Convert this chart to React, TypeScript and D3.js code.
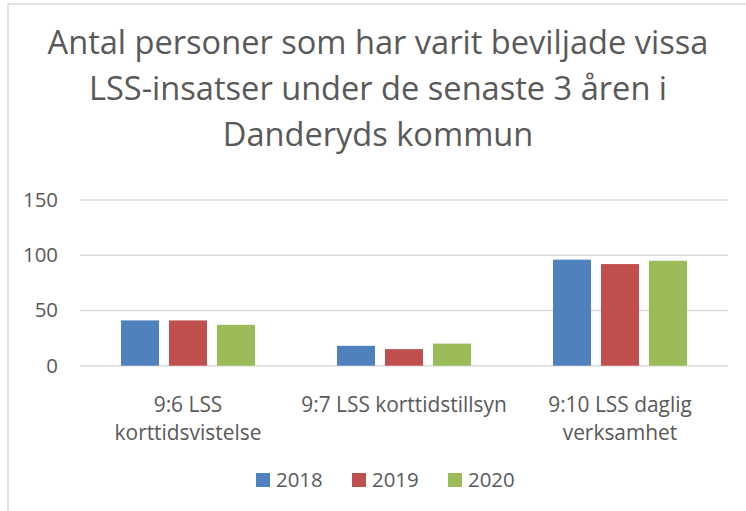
import React from "react";
import * as d3 from "d3";

const categories = ["9:6 LSS korttidsvistelse", "9:7 LSS korttidstillsyn", "9:10 LSS daglig verksamhet"];
const categoryLines = [["9:6 LSS", "korttidsvistelse"], ["9:7 LSS korttidstillsyn"], ["9:10 LSS daglig", "verksamhet"]];
const years = ["2018", "2019", "2020"];
const values2018 = [41, 18, 96];
const values2019 = [41, 15, 92];
const values2020 = [37, 20, 95];
const yTicks = [0, 50, 100, 150];
const titleLines = [
  "Antal personer som har varit beviljade vissa",
  "LSS-insatser under de senaste 3 åren i",
  "Danderyds kommun",
];
const colors = ["#4F81BD", "#C0504D", "#9BBB59"];

const FONT = "'Open Sans', sans-serif";
const TEXT = "#595959";

export default function App() {
  const W = 746, H = 511;
  const left = 80, right = 728, top = 200, bottom = 365.7;
  const series = [values2018, values2019, values2020];

  const x0 = d3.scaleBand<string>().domain(categories).range([left, right]).padding(0);
  const x1 = d3.scaleBand<string>().domain(years).range([0, x0.bandwidth()])
    .paddingInner(10 / 48).paddingOuter(0.854);
  const y = d3.scaleLinear().domain([0, 150]).range([bottom, top]);

  return (
    <svg width={W} height={H} style={{ position: "absolute", left: 0, top: 0 }} fontFamily={FONT}>
      <rect x={0} y={0} width={W} height={H} fill="#fff" />
      <rect x={8} y={4} width={760} height={560} fill="#fff" stroke="#D9D9D9" strokeWidth={1.5} />
      {titleLines.map((t, i) => (
        <text key={i} x={378} y={54.3 + i * 45.8} textAnchor="middle" fontSize={32.6} fill={TEXT}>{t}</text>
      ))}
      {yTicks.map((v) => (
        <g key={v}>
          <line x1={left} x2={right} y1={y(v)} y2={y(v)} stroke="#D9D9D9" strokeWidth={1.5} />
          <text x={58} y={y(v) + 7} textAnchor="end" fontSize={20.4} fill={TEXT}>{v}</text>
        </g>
      ))}
      {categories.map((c, ci) => (
        <g key={c}>
          {series.map((s, si) => (
            <rect key={si}
              x={(x0(c) as number) + (x1(years[si]) as number)}
              y={y(s[ci])}
              width={x1.bandwidth()}
              height={y(0) - y(s[ci])}
              fill={colors[si]} />
          ))}
          {categoryLines[ci].map((ln, li) => (
            <text key={li} x={(x0(c) as number) + x0.bandwidth() / 2} y={411.7 + li * 28.5}
              textAnchor="middle" fontSize={20.9} fill={TEXT}>{ln}</text>
          ))}
        </g>
      ))}
      {years.map((yr, i) => (
        <g key={yr}>
          <rect x={256 + i * 96} y={473} width={14} height={14} fill={colors[i]} />
          <text x={276 + i * 96} y={487} fontSize={20.4} fill={TEXT}>{yr}</text>
        </g>
      ))}
    </svg>
  );
}
